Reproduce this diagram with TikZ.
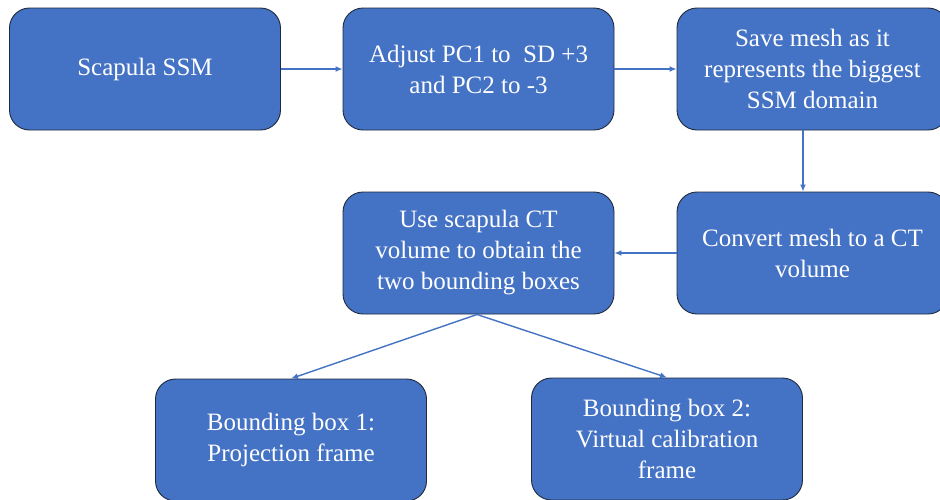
\documentclass[tikz,border=0pt]{standalone}
\usepackage{fontspec}
\setmainfont{Liberation Serif}
\usetikzlibrary{arrows.meta}
\definecolor{boxblue}{HTML}{4472C4}
\definecolor{boxedge}{HTML}{1F2A3C}
\begin{document}
\begin{tikzpicture}[x=1pt,y=-1pt,
  stepbox/.style={draw=boxedge, line width=0.9pt, fill=boxblue, rounded corners=20pt,
    minimum width=271pt, minimum height=122pt, text=white, align=center,
    font=\fontsize{25}{31}\selectfont, inner sep=0pt},
  flow/.style={draw=boxblue, line width=1.4pt, -{Latex[length=7pt,width=6pt]}}]
\useasboundingbox (0,0) rectangle (940,499);
\begin{scope}
\clip (0,0) rectangle (940,499);
\node[stepbox] (ssm)    at (145,69)    {Scapula SSM};
\node[stepbox] (adjust) at (478.5,69)  {Adjust PC1 to\ \ SD +3\\and PC2 to -3};
\node[stepbox] (save)   at (812.5,69)  {Save mesh as it\\represents the biggest\\SSM domain};
\node[stepbox] (conv)   at (812.5,253) {Convert mesh to a CT\\volume};
\node[stepbox] (use)    at (478.5,253) {Use scapula CT\\volume to obtain the\\two bounding boxes};
\node[stepbox] (bb1)    at (291,440)   {Bounding box 1:\\Projection frame};
\node[stepbox] (bb2)    at (667,439)   {Bounding box 2:\\Virtual calibration\\frame};
\coordinate (split) at (477,314.5);
\draw[flow] (ssm.east) -- (adjust.west);
\draw[flow] (adjust.east) -- (save.west);
\draw[flow] (save.south -| 803,0) -- (conv.north -| 803,0);
\draw[flow] (conv.west) -- (use.east);
\draw[flow] (split) -- (bb1.north);
\draw[flow] (split) -- (bb2.north);
\end{scope}
\end{tikzpicture}
\end{document}
